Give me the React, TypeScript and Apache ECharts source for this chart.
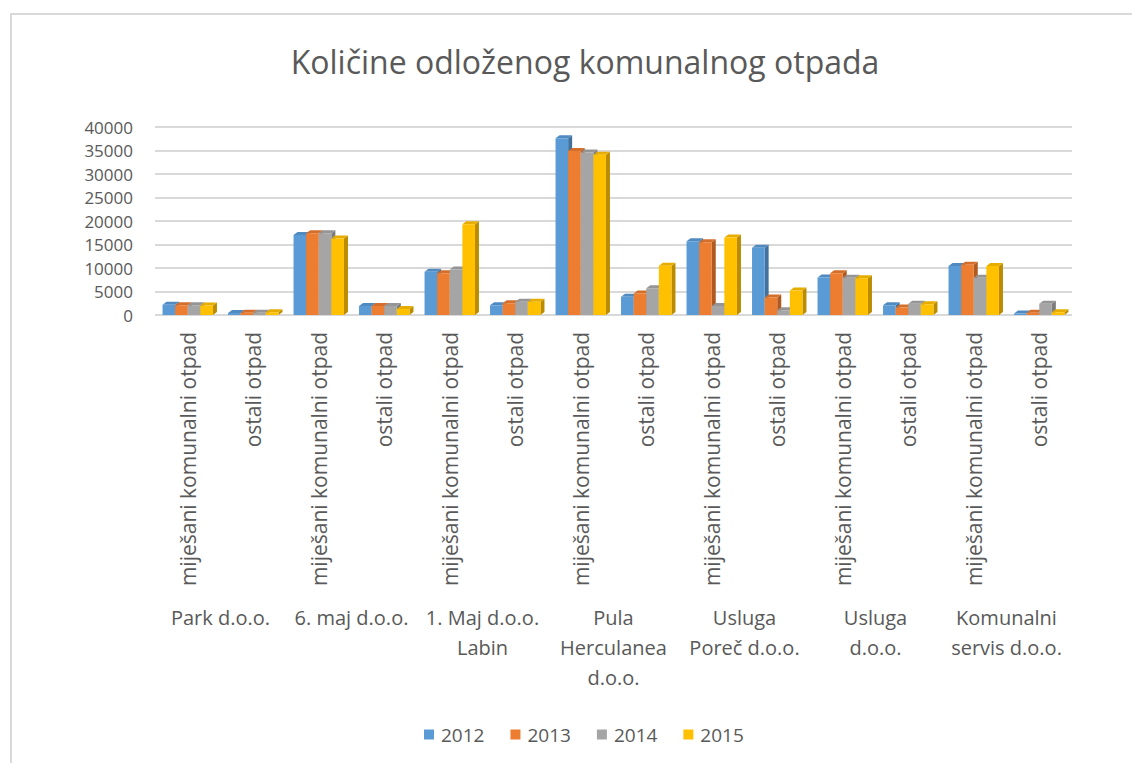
import React, { useEffect, useRef } from "react";
import * as echarts from "echarts";

const subCategories = [
  "miješani komunalni otpad", "ostali otpad",
  "miješani komunalni otpad", "ostali otpad",
  "miješani komunalni otpad", "ostali otpad",
  "miješani komunalni otpad", "ostali otpad",
  "miješani komunalni otpad", "ostali otpad",
  "miješani komunalni otpad", "ostali otpad",
  "miješani komunalni otpad", "ostali otpad",
];
const companies = [
  "Park d.o.o.",
  "6. maj d.o.o.",
  "1. Maj d.o.o.\nLabin",
  "Pula\nHerculanea\nd.o.o.",
  "Usluga\nPoreč d.o.o.",
  "Usluga\nd.o.o.",
  "Komunalni\nservis d.o.o.",
];
const years = ["2012", "2013", "2014", "2015"];
const v2012 = [2200, 400, 17000, 1900, 9200, 2100, 37600, 3900, 15700, 14300, 8000, 2100, 10400, 300];
const v2013 = [2100, 500, 17400, 1900, 8900, 2500, 34900, 4600, 15500, 3700, 8900, 1600, 10700, 500];
const v2014 = [2100, 500, 17400, 1900, 9700, 2800, 34600, 5700, 1900, 1000, 7900, 2400, 7900, 2400];
const v2015 = [2000, 600, 16300, 1300, 19300, 2800, 34100, 10500, 16500, 5200, 7800, 2300, 10400, 600];
const yTicks = { min: 0, max: 40000, interval: 5000 };

const seriesValues = [v2012, v2013, v2014, v2015];
const colors = ["#5B9BD5", "#ED7D31", "#A5A5A5", "#FFC000"];
const sideColors = ["#41719C", "#AE5A21", "#7C7C7C", "#BC8C00"];
const topColors = ["#4F8AC0", "#D46F2B", "#959595", "#E6AD00"];

const FONT = "'Open Sans', sans-serif";
const TXT = "#595959";

export default function App() {
  const ref = useRef<HTMLDivElement>(null);
  useEffect(() => {
    document.body.style.margin = "0";
    const chart = echarts.init(ref.current!, undefined, { renderer: "svg" });
    const makeRender = (s: number) => (params: any, api: any) => {
      const idx = api.value(0);
      const val = api.value(1);
      const base = api.coord([idx, 0]);
      const top = api.coord([idx, val]);
      const band = api.size([1, 0])[0];
      const groupW = band * 0.77;
      const bw = groupW / 4;
      const x0 = base[0] - groupW / 2 + s * bw;
      const yb = base[1];
      const yt = top[1];
      const dx = 4;
      const dy = 3;
      return {
        type: "group",
        children: [
          {
            type: "polygon",
            shape: { points: [[x0 + bw, yt], [x0 + bw + dx, yt - dy], [x0 + bw + dx, yb - dy], [x0 + bw, yb]] },
            style: { fill: sideColors[s] },
          },
          {
            type: "polygon",
            shape: { points: [[x0, yt], [x0 + dx, yt - dy], [x0 + bw + dx, yt - dy], [x0 + bw, yt]] },
            style: { fill: topColors[s] },
          },
          {
            type: "rect",
            shape: { x: x0, y: yt, width: bw, height: yb - yt },
            style: { fill: colors[s] },
          },
        ],
      };
    };
    chart.setOption({
      animation: false,
      textStyle: { fontFamily: FONT },
      title: {
        text: "Količine odloženog komunalnog otpada",
        left: 580,
        textAlign: "center",
        top: 40,
        textStyle: { fontFamily: FONT, fontSize: 32, fontWeight: "normal", color: TXT },
      },
      graphic: [
        {
          type: "rect",
          shape: { x: 11, y: 14, width: 1200, height: 800 },
          style: { fill: "none", stroke: "#D9D9D9", lineWidth: 2 },
          silent: true,
          z: -1,
        },
      ],
      legend: {
        data: years,
        left: 419,
        top: 720,
        icon: "rect",
        itemWidth: 10,
        itemHeight: 10,
        itemGap: 26,
        textStyle: { fontFamily: FONT, fontSize: 19, color: TXT, padding: [0, 0, 0, 2] },
      },
      grid: { left: 155, right: 60, top: 127, bottom: 448 },
      xAxis: [
        {
          type: "category",
          data: subCategories,
          axisLine: { show: false },
          axisTick: { show: false },
          axisLabel: { interval: 0, rotate: 90, margin: 17, fontSize: 21, color: TXT, fontFamily: FONT },
        },
        {
          type: "category",
          data: companies,
          position: "bottom",
          offset: 280,
          axisLine: { show: false },
          axisTick: { show: false },
          axisLabel: { interval: 0, margin: 7, fontSize: 20, lineHeight: 30, color: TXT, fontFamily: FONT },
        },
      ],
      yAxis: {
        type: "value",
        min: yTicks.min,
        max: yTicks.max,
        interval: yTicks.interval,
        axisLine: { show: false },
        axisTick: { show: false },
        axisLabel: {
          fontSize: 17,
          lineHeight: 20,
          color: TXT,
          margin: 22,
          fontFamily: FONT,
          formatter: (v: number) => String(v),
        },
        splitLine: { lineStyle: { color: "#D9D9D9", width: 2 } },
      },
      series: years.map((y, s) => ({
        name: y,
        type: "custom",
        xAxisIndex: 0,
        itemStyle: { color: colors[s] },
        renderItem: makeRender(s),
        encode: { x: 0, y: 1 },
        data: seriesValues[s].map((v, i) => [i, v]),
      })),
    });
    return () => chart.dispose();
  }, []);
  return <div ref={ref} style={{ width: 1132, height: 763 }} />;
}
